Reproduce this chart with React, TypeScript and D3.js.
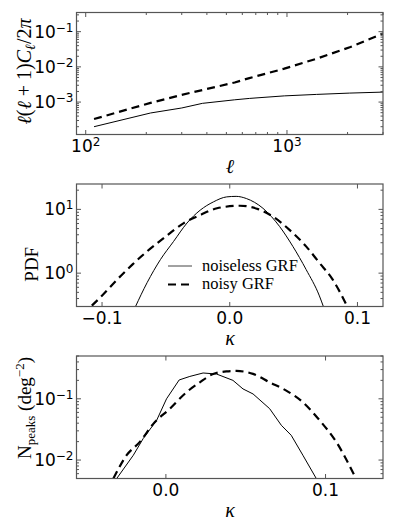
import React from "react";
import * as d3 from "d3";

// top panel: power spectra, l(l+1)C_l/2pi against l
const ells = [110, 210, 300, 380, 550, 650, 970, 1400, 2050, 3000];
const clNoiseless = [2.0e-4, 4.9e-4, 6.8e-4, 9.2e-4, 1.16e-3, 1.27e-3, 1.5e-3, 1.65e-3, 1.8e-3, 1.92e-3];
const clNoisy = [3.3e-4, 9.5e-4, 1.6e-3, 2.2e-3, 3.6e-3, 4.8e-3, 8.9e-3, 0.017, 0.036, 0.088];

// middle panel: one-point PDF of kappa
const pdfKappaNoiseless = [-0.0738, -0.0647, -0.0543, -0.044, -0.0335, -0.0232, -0.0128, -0.0024, 0.005, 0.013, 0.026, 0.039, 0.0494, 0.0598, 0.0702, 0.0733];
const pdfNoiseless = [0.3, 0.71, 1.63, 3.14, 6.1, 9.7, 13.1, 15.7, 16.0, 14.8, 10.4, 5.4, 2.63, 1.14, 0.44, 0.3];
const pdfKappaNoisy = [-0.108, -0.0997, -0.088, -0.0763, -0.0647, -0.0517, -0.036, -0.0232, -0.01, 0.008, 0.0222, 0.0339, 0.0468, 0.0598, 0.0702, 0.0805, 0.091];
const pdfNoisy = [0.31, 0.45, 0.8, 1.36, 2.2, 3.55, 6.1, 8.15, 10.4, 11.4, 10.1, 7.7, 4.77, 2.63, 1.45, 0.8, 0.33];

// bottom panel: peak counts
const peakKappaNoiseless = [-0.0308, -0.0204, -0.0142, -0.0058, 0.0004, 0.0083, 0.015, 0.0233, 0.0317, 0.042, 0.0483, 0.0546, 0.065, 0.0723, 0.0785, 0.0858, 0.0942];
const peaksNoiseless = [0.005, 0.012, 0.0225, 0.0445, 0.1, 0.203, 0.232, 0.264, 0.254, 0.2, 0.145, 0.12, 0.069, 0.037, 0.0254, 0.012, 0.005];
const peakKappaNoisy = [-0.0329, -0.0246, -0.0163, -0.0079, 0.0025, 0.0129, 0.0213, 0.0296, 0.0379, 0.0442, 0.0546, 0.065, 0.0754, 0.0858, 0.0963, 0.1067, 0.118];
const peaksNoisy = [0.005, 0.012, 0.0198, 0.039, 0.069, 0.128, 0.186, 0.254, 0.28, 0.285, 0.255, 0.186, 0.136, 0.088, 0.0445, 0.0198, 0.0057];

const legendLabels = ["noiseless GRF", "noisy GRF"];

const LEFT = 76.5;
const RIGHT = 383;
const FRAME = "#555";
const SANS = "'DejaVu Sans', sans-serif";
const SERIF = "'Liberation Serif', serif";
const DASH = "8,5";

const isDecade = (v: number) => Math.abs(Math.log10(v) - Math.round(Math.log10(v))) < 1e-6;

const pow10 = (v: number) => {
  const e = Math.round(Math.log10(v));
  return e < 0 ? "\u2212" + -e : String(e);
};

function Pow({ x, y, v, anchor }: { x: number; y: number; v: number; anchor: string }) {
  return (
    <text x={x} y={y} textAnchor={anchor} fontFamily={SANS} fontSize={17} fill="#000">
      <tspan>10</tspan>
      <tspan dy={-6} fontSize={12}>{pow10(v)}</tspan>
    </text>
  );
}

type Series = { xs: number[]; ys: number[]; dashed: boolean; curve?: d3.CurveFactory };

function Panel(props: {
  id: string;
  top: number;
  bottom: number;
  x: any;
  y: any;
  xTicks: number[];
  xLog: boolean;
  series: Series[];
  xLabel: (v: number) => React.ReactNode;
  children?: React.ReactNode;
}) {
  const { id, top, bottom, x, y, xTicks, xLog, series } = props;
  const xMajor = xLog ? xTicks.filter(isDecade) : xTicks;
  const xMinor = xLog ? xTicks.filter((t) => !isDecade(t)) : [];
  const yAll = y.ticks();
  const yMajor = yAll.filter(isDecade);
  const yMinor = yAll.filter((t: number) => !isDecade(t));

  const tick = (len: number) => (t: number, i: number, vert: boolean) =>
    vert ? (
      <g key={"x" + len + i}>
        <line x1={x(t)} x2={x(t)} y1={bottom} y2={bottom - len} stroke={FRAME} />
        <line x1={x(t)} x2={x(t)} y1={top} y2={top + len} stroke={FRAME} />
      </g>
    ) : (
      <g key={"y" + len + i}>
        <line x1={LEFT} x2={LEFT + len} y1={y(t)} y2={y(t)} stroke={FRAME} />
        <line x1={RIGHT} x2={RIGHT - len} y1={y(t)} y2={y(t)} stroke={FRAME} />
      </g>
    );

  return (
    <g>
      <clipPath id={id}>
        <rect x={LEFT} y={top} width={RIGHT - LEFT} height={bottom - top} />
      </clipPath>
      <g clipPath={`url(#${id})`}>
        {series.map((s, i) => {
          const pts = s.xs.map((v, j) => [v, s.ys[j]] as [number, number]);
          const path = d3
            .line<[number, number]>()
            .x((d) => x(d[0]))
            .y((d) => y(d[1]))
            .curve(s.curve || d3.curveLinear)(pts);
          return (
            <path
              key={i}
              d={path || ""}
              fill="none"
              stroke="#000"
              strokeWidth={s.dashed ? 2.2 : 1}
              strokeDasharray={s.dashed ? DASH : undefined}
            />
          );
        })}
      </g>
      {xMajor.map((t, i) => tick(4.5)(t, i, true))}
      {xMinor.map((t, i) => tick(2.5)(t, i, true))}
      {yMajor.map((t: number, i: number) => tick(4.5)(t, i, false))}
      {yMinor.map((t: number, i: number) => tick(2.5)(t, i, false))}
      <rect x={LEFT} y={top} width={RIGHT - LEFT} height={bottom - top} fill="none" stroke={FRAME} strokeWidth={1.2} />
      {xMajor.map((t, i) => (
        <g key={"xl" + i}>{props.xLabel(t)}</g>
      ))}
      {yMajor.map((t: number, i: number) => (
        <Pow key={"yl" + i} x={LEFT - 3} y={y(t) + 6} v={t} anchor="end" />
      ))}
      {props.children}
    </g>
  );
}

export default function App() {
  // panel frames
  const p1 = { top: 12.5, bottom: 134.5 };
  const p2 = { top: 184, bottom: 306.5 };
  const p3 = { top: 356, bottom: 478.5 };

  const x1 = d3.scaleLog().domain([90, 3000]).range([LEFT, RIGHT]);
  const y1 = d3.scaleLog().domain([1.2e-4, 0.35]).range([p1.bottom, p1.top]);
  const x2 = d3.scaleLinear().domain([-0.12, 0.12]).range([LEFT, RIGHT]);
  const y2 = d3.scaleLog().domain([0.3, 25]).range([p2.bottom, p2.top]);
  const x3 = d3.scaleLinear().domain([-0.056, 0.136]).range([LEFT, RIGHT]);
  const y3 = d3.scaleLog().domain([0.005, 0.5]).range([p3.bottom, p3.top]);

  const linLabel = (sc: any, bottom: number) => (v: number) => (
    <text x={sc(v)} y={bottom + 17.5} textAnchor="middle" fontFamily={SANS} fontSize={17}>
      {(v < 0 ? "\u2212" : "") + Math.abs(v).toFixed(1)}
    </text>
  );

  return (
    <svg width={399} height={532} style={{ display: "block", position: "absolute", left: 0, top: 0 }}>
      <rect width={399} height={532} fill="#fff" />

      <Panel
        id="c1"
        {...p1}
        x={x1}
        y={y1}
        xTicks={x1.ticks()}
        xLog={true}
        series={[
          { xs: ells, ys: clNoiseless, dashed: false },
          { xs: ells, ys: clNoisy, dashed: true },
        ]}
        xLabel={(v) => <Pow x={x1(v)} y={p1.bottom + 17.5} v={v} anchor="middle" />}
      >
        <text x={230} y={p1.bottom + 38.5} textAnchor="middle" fontFamily={SERIF} fontStyle="italic" fontSize={20}>
          ℓ
        </text>
        <text transform={`translate(31,${(p1.top + p1.bottom) / 2 - 2}) rotate(-90)`} textAnchor="middle" fontFamily={SERIF} fontSize={20}>
          <tspan fontStyle="italic">ℓ</tspan>
          <tspan>(</tspan>
          <tspan fontStyle="italic">ℓ</tspan>
          <tspan> + 1)</tspan>
          <tspan fontStyle="italic">C</tspan>
          <tspan fontStyle="italic" fontSize={14} dy={4}>ℓ</tspan>
          <tspan dy={-4}>/2</tspan>
          <tspan fontStyle="italic">π</tspan>
        </text>
      </Panel>

      <Panel
        id="c2"
        {...p2}
        x={x2}
        y={y2}
        xTicks={[-0.1, 0, 0.1]}
        xLog={false}
        series={[
          { xs: pdfKappaNoiseless, ys: pdfNoiseless, dashed: false, curve: d3.curveMonotoneX },
          { xs: pdfKappaNoisy, ys: pdfNoisy, dashed: true, curve: d3.curveMonotoneX },
        ]}
        xLabel={linLabel(x2, p2.bottom)}
      >
        <text x={230} y={p2.bottom + 38.5} textAnchor="middle" fontFamily={SERIF} fontStyle="italic" fontSize={20}>
          κ
        </text>
        <text transform={`translate(38,${(p2.top + p2.bottom) / 2 + 19}) rotate(-90)`} textAnchor="middle" fontFamily={SERIF} fontSize={19}>
          PDF
        </text>
        {/* legend */}
        {legendLabels.map((lab, i) => (
          <g key={lab}>
            <line
              x1={168}
              x2={192}
              y1={266 + i * 18.5}
              y2={266 + i * 18.5}
              stroke={i === 0 ? "#444" : "#000"}
              strokeWidth={i === 0 ? 1 : 2.2}
              strokeDasharray={i === 0 ? undefined : DASH}
            />
            <text x={202} y={270.5 + i * 18.5} fontFamily={SERIF} fontSize={16.5}>
              {lab}
            </text>
          </g>
        ))}
      </Panel>

      <Panel
        id="c3"
        {...p3}
        x={x3}
        y={y3}
        xTicks={[0, 0.1]}
        xLog={false}
        series={[
          { xs: peakKappaNoiseless, ys: peaksNoiseless, dashed: false },
          { xs: peakKappaNoisy, ys: peaksNoisy, dashed: true, curve: d3.curveMonotoneX },
        ]}
        xLabel={linLabel(x3, p3.bottom)}
      >
        <text x={230} y={p3.bottom + 38.5} textAnchor="middle" fontFamily={SERIF} fontStyle="italic" fontSize={20}>
          κ
        </text>
        <text transform={`translate(31,${(p3.top + 460) / 2}) rotate(-90)`} textAnchor="middle" fontFamily={SERIF} fontSize={19}>
          <tspan>N</tspan>
          <tspan fontSize={13} dy={4}>peaks</tspan>
          <tspan dy={-4}> (deg</tspan>
          <tspan fontSize={13} dy={-7}>−2</tspan>
          <tspan dy={7}>)</tspan>
        </text>
      </Panel>
    </svg>
  );
}
